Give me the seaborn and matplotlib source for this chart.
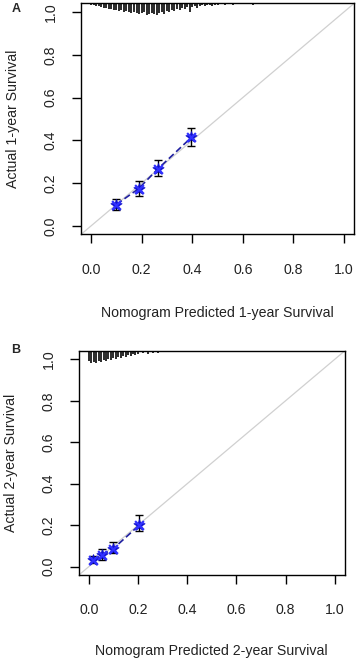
import numpy as np
import pandas as pd
import seaborn as sns
import matplotlib.pyplot as plt

# --- data ------------------------------------------------------------------
# panel A: 1-year calibration
pred_1y = [0.10, 0.188, 0.263, 0.397]
obs_1y = [0.100, 0.174, 0.265, 0.414]
lo_1y = [0.075, 0.142, 0.232, 0.374]
hi_1y = [0.126, 0.212, 0.308, 0.458]

# panel B: 2-year calibration
pred_2y = [0.019, 0.053, 0.098, 0.204]
obs_2y = [0.032, 0.056, 0.085, 0.199]
lo_2y = [0.016, 0.032, 0.065, 0.170]
hi_2y = [0.050, 0.084, 0.120, 0.249]

# distribution of predicted risk (spike plot on top), relative frequencies
rug_1y_x = [round(0.01 * i, 2) for i in range(51)] + [0.53, 0.56, 0.60, 0.64, 0.68, 0.72]
rug_1y_n = [2, 2, 3, 3, 4, 5, 5, 6, 6, 7, 7, 8, 7, 9, 8, 9, 10, 9, 10, 11,
            10, 9, 12, 11, 10, 11, 12, 10, 9, 11, 8, 9, 7, 8, 6, 7, 5, 6, 4, 9,
            4, 3, 5, 3, 2, 3, 2, 2, 3, 2, 2, 1.5, 2, 1, 1.5, 1, 1]
rug_2y_x = [round(0.01 * i, 2) for i in range(21)] + [0.22, 0.24, 0.26, 0.28, 0.31, 0.35, 0.40, 0.45]
rug_2y_n = [10, 12, 11, 12, 10, 11, 9, 10, 8, 9, 7, 8, 6, 7, 5, 6, 4, 5, 3, 4, 3,
            2, 3, 1.5, 2, 1, 1, 1, 1]

ticks = [0.0, 0.2, 0.4, 0.6, 0.8, 1.0]
tick_labels = ["0.0", "0.2", "0.4", "0.6", "0.8", "1.0"]

# --- style ------------------------------------------------------------------
sns.set_theme(style="ticks", rc={"axes.linewidth": 1, "axes.edgecolor": "black"})
plt.rcParams["font.family"] = ["Liberation Sans", "DejaVu Sans"]

fig = plt.figure(figsize=(3.57, 6.60), dpi=100)
W, H = 357, 660

panels = [
    dict(box=(80.9, 3.4, 273.2, 231.1), pred=pred_1y, obs=obs_1y, lo=lo_1y, hi=hi_1y,
         rx=rug_1y_x, rn=rug_1y_n, depth=0.056, letter="A",
         xlab="Nomogram Predicted 1-year Survival", ylab="Actual 1-year Survival",
         letter_y=9, xpad=21),
    dict(box=(78.9, 351.0, 265.7, 224.0), pred=pred_2y, obs=obs_2y, lo=lo_2y, hi=hi_2y,
         rx=rug_2y_x, rn=rug_2y_n, depth=0.058, letter="B",
         xlab="Nomogram Predicted 2-year Survival", ylab="Actual 2-year Survival",
         letter_y=350, xpad=19),
]

for p in panels:
    left, top, w, h = p["box"]
    ax = fig.add_axes([left / W, 1 - (top + h) / H, w / W, h / H])
    ax.set_xlim(-0.04, 1.04)
    ax.set_ylim(-0.04, 1.04)

    # ideal line
    ax.plot([-0.04, 1.04], [-0.04, 1.04], color="#d0d0d0", lw=0.9, zorder=1)

    # spike histogram of predictions, hanging from the top
    rn = np.array(p["rn"], dtype=float)
    ax.vlines(p["rx"], 1.04 - rn / rn.max() * p["depth"], 1.04,
              color="#2a2a2a", lw=1.4, zorder=2)

    df = pd.DataFrame({"pred": p["pred"], "obs": p["obs"]})
    sns.lineplot(data=df, x="pred", y="obs", ax=ax, color="#2020a0",
                 lw=1.2, linestyle=(0, (4, 2)), zorder=3)
    err = [np.array(p["obs"]) - np.array(p["lo"]), np.array(p["hi"]) - np.array(p["obs"])]
    ax.errorbar(p["pred"], p["obs"], yerr=err, fmt="none", ecolor="black",
                elinewidth=1.0, capsize=3, capthick=1.0, zorder=4)
    sns.scatterplot(data=df, x="pred", y="obs", ax=ax, marker="*", s=70,
                    color="#1010d0", edgecolor="#1010d0", zorder=5)
    sns.scatterplot(data=df, x="pred", y="obs", ax=ax, marker="x", s=40,
                    color="#3030ff", linewidth=1.6, zorder=6)

    ax.set_xticks(ticks)
    ax.set_xticklabels(tick_labels)
    ax.set_yticks(ticks)
    ax.set_yticklabels(tick_labels, rotation=90, va="center")
    ax.tick_params(axis="both", length=6.5, width=1, labelsize=10.2,
                   color="black", labelcolor="#222222")
    ax.tick_params(axis="x", pad=14)
    ax.tick_params(axis="y", pad=10)
    for s in ax.spines.values():
        s.set_visible(True)
        s.set_linewidth(1)

    ax.set_xlabel(p["xlab"], fontsize=10.2, labelpad=p["xpad"], color="#222222")
    ax.set_ylabel(p["ylab"], fontsize=10.2, labelpad=17, color="#222222")

    fig.text(16 / W, 1 - p["letter_y"] / H, p["letter"], fontsize=9,
             fontweight="bold", ha="center", va="center")

fig.savefig("out.png", dpi=100)
